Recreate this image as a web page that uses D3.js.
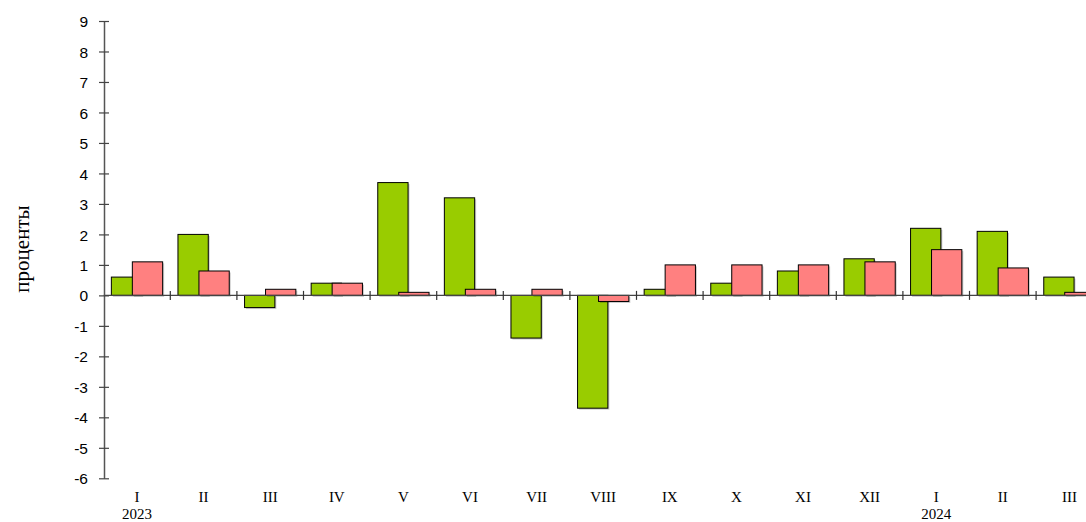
<!DOCTYPE html>
<html><head><meta charset="utf-8">
<script src="https://cdn.jsdelivr.net/npm/d3@7"></script>
<style>body{margin:0;background:#fff}svg{display:block}</style>
</head><body>
<script>
const categories = ["I","II","III","IV","V","VI","VII","VIII","IX","X","XI","XII","I","II","III"];
const years = ["2023","","","","","","","","","","","","2024","",""];
const greenValues = [0.6, 2.0, -0.4, 0.4, 3.7, 3.2, -1.4, -3.7, 0.2, 0.4, 0.8, 1.2, 2.2, 2.1, 0.6];
const pinkValues  = [1.1, 0.8, 0.2, 0.4, 0.1, 0.2, 0.2, -0.2, 1.0, 1.0, 1.0, 1.1, 1.5, 0.9, 0.1];
const yTicks = [9,8,7,6,5,4,3,2,1,0,-1,-2,-3,-4,-5,-6];

const W = 1086, H = 522;
const svg = d3.select("body").append("svg").attr("width", W).attr("height", H);

const y = d3.scaleLinear().domain([-6, 9]).range([478.3, 21]);
const x = d3.scaleBand().domain(d3.range(categories.length)).range([103.7, 1102.7]).padding(0);
const bw = x.bandwidth();
const barW = bw * 0.455, gOff = bw * 0.115, pOff = gOff + bw * 0.315;

const series = [
  {vals: greenValues, off: gOff, color: "#99CC00"},
  {vals: pinkValues, off: pOff, color: "#FF8080"}
];

series.forEach(s => {
  const g = svg.append("g");
  s.vals.forEach((v, i) => {
    const x0 = x(i) + s.off;
    const y0 = Math.min(y(v), y(0)), h = Math.abs(y(v) - y(0));
    g.append("rect").attr("x", x0 + 1.5).attr("y", y0 + 1.5).attr("width", barW).attr("height", h)
      .attr("fill", "#000").attr("opacity", 0.2);
    g.append("rect").attr("x", x0).attr("y", y0).attr("width", barW).attr("height", h)
      .attr("fill", s.color).attr("stroke", "#000").attr("stroke-width", 1);
  });
});

svg.append("line").attr("x1", 103.7).attr("x2", W).attr("y1", y(0)).attr("y2", y(0))
  .attr("stroke", "#444").attr("stroke-width", 1.2);
d3.range(1, categories.length).forEach(i => {
  svg.append("line").attr("x1", x(i)).attr("x2", x(i)).attr("y1", y(0) - 4.5).attr("y2", y(0) + 4.5)
    .attr("stroke", "#333").attr("stroke-width", 1.2);
});

const yAxis = d3.axisLeft(y).tickValues(yTicks).tickSize(0).tickPadding(0).tickFormat(d => String(d));
const ya = svg.append("g").attr("transform", "translate(104,0)").call(yAxis);
ya.select(".domain").attr("stroke", "#555").attr("stroke-width", 1.5);
ya.selectAll(".tick line").remove();
ya.selectAll(".tick").append("line").attr("x1", -5).attr("x2", 5).attr("stroke", "#444").attr("stroke-width", 1.2);
ya.selectAll(".tick text").attr("x", -16).attr("dy", "0.36em")
  .attr("font-family", "Liberation Sans, Arial, sans-serif").attr("font-size", 15.5).attr("fill", "#000");

const xl = svg.append("g");
categories.forEach((c, i) => {
  xl.append("text").attr("x", x(i) + bw / 2).attr("y", 502).attr("text-anchor", "middle")
    .attr("font-family", "Liberation Serif, Times New Roman, serif").attr("font-size", 15).text(c);
  if (years[i]) xl.append("text").attr("x", x(i) + bw / 2).attr("y", 518.5).attr("text-anchor", "middle")
    .attr("font-family", "Liberation Serif, Times New Roman, serif").attr("font-size", 15).text(years[i]);
});

svg.append("text").attr("transform", "translate(29,249) rotate(-90)").attr("text-anchor", "middle")
  .attr("font-family", "Liberation Serif, Times New Roman, serif").attr("font-size", 21).text("проценты");
</script>
</body></html>
